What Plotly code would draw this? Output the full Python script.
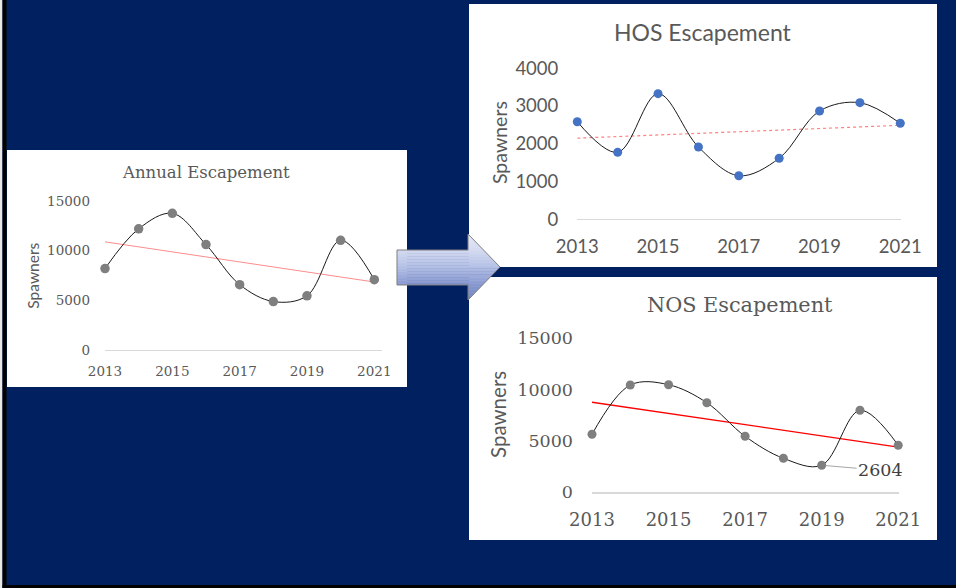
import numpy as np
import plotly.graph_objects as go

W, H = 956, 588

years = [2013, 2014, 2015, 2016, 2017, 2018, 2019, 2020, 2021]
annual = [8200, 12200, 13760, 10610, 6580, 4880, 5450, 11040, 7080]
hos = [2582, 1772, 3323, 1913, 1153, 1614, 2865, 3085, 2540]
nos = [5624, 10429, 10458, 8704, 5429, 3285, 2604, 7963, 4552]

xticks = [2013, 2015, 2017, 2019, 2021]
ticks_annual = [0, 5000, 10000, 15000]
ticks_hos = [0, 1000, 2000, 3000, 4000]
ticks_nos = [0, 5000, 10000, 15000]

titles = ["Annual Escapement", "HOS Escapement", "NOS Escapement"]
ylabel = "Spawners"

NAVY = "#002060"
GREY_TXT = "#595959"
SERIF = "DejaVu Serif"
SANS = "Lato"


def fx(px):
    return px / W


def fy(py):
    return 1 - py / H


def trend(vals):
    c = np.polyfit(np.arange(len(vals)), vals, 1)
    return list(np.polyval(c, np.arange(len(vals))))


fig = go.Figure()

# trend lines
fig.add_trace(go.Scatter(x=years, y=trend(annual), mode="lines", xaxis="x", yaxis="y",
                         line=dict(color="#FF8C8C", width=1), hoverinfo="skip"))
fig.add_trace(go.Scatter(x=years, y=trend(hos), mode="lines", xaxis="x2", yaxis="y2",
                         line=dict(color="#FF8080", width=1.2, dash="dot"), hoverinfo="skip"))
fig.add_trace(go.Scatter(x=years, y=trend(nos), mode="lines", xaxis="x3", yaxis="y3",
                         line=dict(color="#FF0000", width=1.3), hoverinfo="skip"))

# smoothed series
fig.add_trace(go.Scatter(x=years, y=annual, mode="lines+markers", xaxis="x", yaxis="y",
                         line=dict(color="#1a1a1a", width=1, shape="spline", smoothing=1),
                         marker=dict(color="#7F7F7F", size=9.5), cliponaxis=False))
fig.add_trace(go.Scatter(x=years, y=hos, mode="lines+markers", xaxis="x2", yaxis="y2",
                         line=dict(color="#1a1a1a", width=1, shape="spline", smoothing=1),
                         marker=dict(color="#4472C4", size=9), cliponaxis=False))
fig.add_trace(go.Scatter(x=years, y=nos, mode="lines+markers", xaxis="x3", yaxis="y3",
                         line=dict(color="#1a1a1a", width=1, shape="spline", smoothing=1),
                         marker=dict(color="#7F7F7F", size=9), cliponaxis=False))


def xax(dom, rng, font, size, standoff, lw, anchor):
    return dict(domain=[fx(dom[0]), fx(dom[1])], range=rng, tickvals=xticks,
                tickformat="d", anchor=anchor, automargin=False,
                showgrid=False, zeroline=False, showline=True, linecolor="#D9D9D9",
                linewidth=lw, ticks="", ticklabelstandoff=standoff,
                tickfont=dict(family=font, size=size, color=GREY_TXT), fixedrange=True)


def yax(dom, rng, tv, font, size, standoff, anchor):
    return dict(domain=[fy(dom[0]), fy(dom[1])], range=rng, tickvals=tv,
                tickformat="d", automargin=False,
                showgrid=False, zeroline=False, showline=False, ticks="",
                ticklabelstandoff=standoff, anchor=anchor,
                tickfont=dict(family=font, size=size, color=GREY_TXT), fixedrange=True)


def poly_path(pts):
    out = []
    for i, (px, py) in enumerate(pts):
        out.append(("M" if i == 0 else "L") + f"{fx(px):.5f},{fy(py):.5f}")
    return " ".join(out) + " Z"


shapes = [
    dict(type="rect", xref="paper", yref="paper", x0=fx(7), x1=fx(407), y0=fy(387), y1=fy(150),
         fillcolor="white", line=dict(width=0), layer="below"),
    dict(type="rect", xref="paper", yref="paper", x0=fx(469), x1=fx(937), y0=fy(267), y1=fy(4),
         fillcolor="white", line=dict(width=0), layer="below"),
    dict(type="rect", xref="paper", yref="paper", x0=fx(469), x1=fx(937), y0=fy(540), y1=fy(277),
         fillcolor="white", line=dict(width=0), layer="below"),
    dict(type="rect", xref="paper", yref="paper", x0=0, x1=fx(2.5), y0=0, y1=1,
         fillcolor="#E8E8E8", line=dict(width=0), layer="below"),
    dict(type="rect", xref="paper", yref="paper", x0=fx(2.5), x1=fx(6.5), y0=0, y1=1,
         fillcolor="black", line=dict(width=0), layer="below"),
    dict(type="rect", xref="paper", yref="paper", x0=fx(2.5), x1=1, y0=0, y1=fy(585),
         fillcolor="black", line=dict(width=0), layer="below"),
]

# arrow (body 397-468 x 250-285, head 468-500 x 234-300, tip y 267) with vertical gradient
AX0, AX1, TIP = 397, 468, 500
BY0, BY1, HY0, HY1, TY = 250, 285, 234, 300, 267


def xr(y):
    return TIP - (TIP - AX1) * abs(y - TY) / (TY - HY0)


def xl(ya, yb):
    return AX0 if (ya >= BY0 and yb <= BY1) else AX1


stops = [(234, (0xE4, 0xE8, 0xF6)), (250, (0xD4, 0xDB, 0xF1)), (267, (0xB4, 0xC0, 0xE5)),
         (285, (0x86, 0x97, 0xCF)), (300, (0x72, 0x85, 0xC4))]


def colat(y):
    for (y0, c0), (y1, c1) in zip(stops[:-1], stops[1:]):
        if y0 <= y <= y1:
            t = (y - y0) / (y1 - y0)
            return tuple(int(round(a + (b - a) * t)) for a, b in zip(c0, c1))
    return stops[-1][1]


edges = sorted(set(list(np.arange(HY0, HY1 + 0.01, 1.5)) + [BY0, BY1, TY]))
for ya, yb in zip(edges[:-1], edges[1:]):
    lx = xl(ya, yb)
    ya2, yb2 = ya - 0.35, yb + 0.35
    if lx == AX0:
        ya2, yb2 = max(ya2, BY0), min(yb2, BY1)
    ya2, yb2 = max(ya2, HY0), min(yb2, HY1)
    pts = [(lx, ya2), (xr(ya2), ya2)]
    if ya2 < TY < yb2:
        pts.append((TIP, TY))
    pts += [(xr(yb2), yb2), (lx, yb2)]
    shapes.append(dict(type="path", xref="paper", yref="paper", path=poly_path(pts),
                       fillcolor="rgb(%d,%d,%d)" % colat((ya + yb) / 2),
                       line=dict(width=0), layer="above"))

shapes.append(dict(type="path", xref="paper", yref="paper",
                   path=poly_path([(AX0, BY0), (AX1, BY0), (AX1, HY0), (TIP, TY), (AX1, HY1),
                                   (AX1, BY1), (AX0, BY1)]),
                   fillcolor="rgba(0,0,0,0)", line=dict(width=1, color="#7F7F7F"), layer="above"))

annotations = [
    dict(text=titles[0], x=fx(206), y=fy(173), xref="paper", yref="paper", showarrow=False,
         xanchor="center", yanchor="middle", font=dict(family=SERIF, size=16.5, color=GREY_TXT)),
    dict(text=titles[1], x=fx(702.7), y=fy(32.3), xref="paper", yref="paper", showarrow=False,
         xanchor="center", yanchor="middle", font=dict(family=SANS, size=23, color=GREY_TXT)),
    dict(text=titles[2], x=fx(739.7), y=fy(305), xref="paper", yref="paper", showarrow=False,
         xanchor="center", yanchor="middle", font=dict(family=SERIF, size=20.8, color=GREY_TXT)),
    dict(text=ylabel, x=fx(33), y=fy(275.7), xref="paper", yref="paper", showarrow=False,
         textangle=-90, xanchor="center", yanchor="middle",
         font=dict(family=SANS, size=15.5, color=GREY_TXT)),
    dict(text=ylabel, x=fx(499), y=fy(143), xref="paper", yref="paper", showarrow=False,
         textangle=-90, xanchor="center", yanchor="middle",
         font=dict(family=SANS, size=19.5, color=GREY_TXT)),
    dict(text=ylabel, x=fx(498), y=fy(415), xref="paper", yref="paper", showarrow=False,
         textangle=-90, xanchor="center", yanchor="middle",
         font=dict(family=SANS, size=20.5, color=GREY_TXT)),
    dict(text=str(nos[6]), x=years[6], y=nos[6], xref="x3", yref="y3", showarrow=True,
         arrowhead=0, arrowwidth=1, arrowcolor="#A6A6A6", ax=59, ay=5, standoff=4,
         font=dict(family=SERIF, size=17.5, color="#404040")),
]

fig.update_layout(
    width=W, height=H, margin=dict(l=0, r=0, t=0, b=0, autoexpand=False),
    paper_bgcolor=NAVY, plot_bgcolor="rgba(0,0,0,0)", showlegend=False,
    xaxis=xax((105, 381.7), [2013, 2021.22], SERIF, 13.5, 9, 1, "y"),
    yaxis=yax((350, 201), [0, 15000], ticks_annual, SERIF, 13.5, 14, "x"),
    xaxis2=xax((577.3, 900.7), [2013, 2021.01], SANS, 18.5, 10, 1, "y2"),
    yaxis2=yax((219.3, 68.1), [0, 4000], ticks_hos, SANS, 18.5, 18, "x2"),
    xaxis3=xax((592, 899), [2013, 2021.02], SERIF, 18, 10, 2, "y3"),
    yaxis3=yax((492, 338.1), [0, 15000], ticks_nos, SERIF, 17.5, 18, "x3"),
    shapes=shapes, annotations=annotations,
)

fig.write_html(
    "out.html",
    config={"displayModeBar": False},
    post_script="document.body.style.margin='0';document.body.style.padding='0';"
                "document.body.style.overflow='hidden';",
)
